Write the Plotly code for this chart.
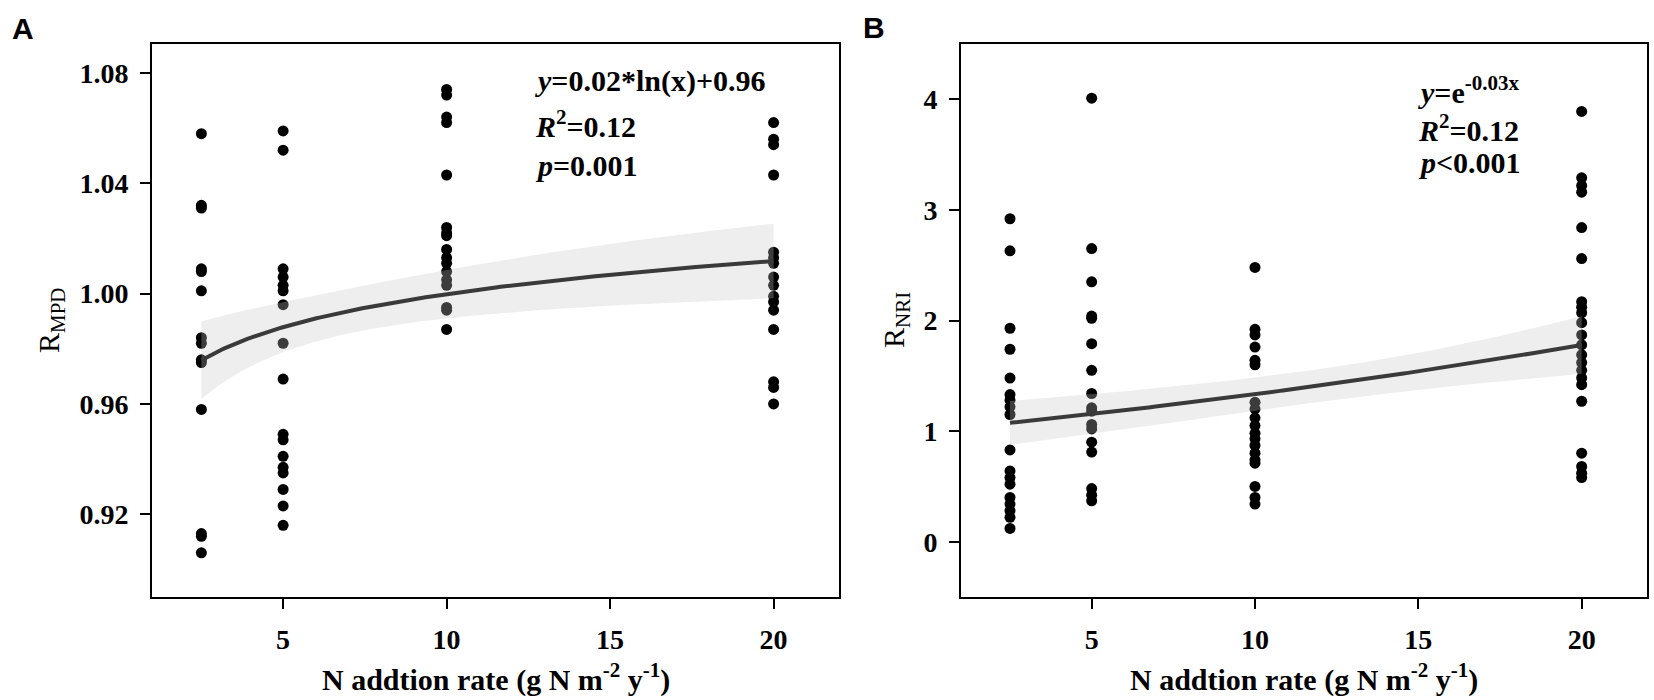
import numpy as np
import plotly.graph_objects as go

W, H = 1654, 700

# ---------------- data ----------------
N_RATES = [2.5, 5, 10, 20]

MPD_25 = [1.058, 1.032, 1.031, 1.009, 1.008, 1.001, 0.984, 0.982, 0.976, 0.975, 0.958, 0.913, 0.912, 0.906]
MPD_5 = [1.059, 1.052, 1.009, 1.006, 1.003, 1.001, 0.996, 0.982, 0.969, 0.949, 0.947, 0.941, 0.937,
         0.935, 0.929, 0.923, 0.916]
MPD_10 = [1.074, 1.072, 1.064, 1.062, 1.043, 1.024, 1.022, 1.021, 1.016, 1.013, 1.011, 1.008, 1.005,
          1.003, 0.995, 0.994, 0.987]
MPD_20 = [1.062, 1.056, 1.054, 1.043, 1.015, 1.013, 1.011, 1.006, 1.003, 0.999, 0.997, 0.994, 0.987,
          0.968, 0.966, 0.960]

NRI_25 = [2.92, 2.63, 1.93, 1.74, 1.48, 1.33, 1.28, 1.22, 1.15, 0.83, 0.64, 0.58, 0.52, 0.40, 0.34,
          0.28, 0.22, 0.12]
NRI_5 = [4.01, 2.65, 2.35, 2.04, 2.02, 1.79, 1.55, 1.34, 1.21, 1.18, 1.06, 1.02, 0.90, 0.81, 0.48,
         0.42, 0.37]
NRI_10 = [2.48, 1.92, 1.87, 1.76, 1.64, 1.60, 1.26, 1.20, 1.12, 1.05, 0.98, 0.93, 0.87, 0.80, 0.74,
          0.71, 0.50, 0.40, 0.34]
NRI_20 = [3.89, 3.29, 3.22, 3.16, 2.84, 2.56, 2.17, 2.12, 2.07, 1.98, 1.87, 1.78, 1.69, 1.62, 1.55,
          1.48, 1.42, 1.27, 0.80, 0.68, 0.62, 0.58]

# fitted curves as drawn
A_SLOPE, A_INTERCEPT = 0.0173, 0.960     # y = a*ln(x) + b
B_COEF, B_RATE = 1.0, 0.0288             # y = c*exp(r*x)
BAND_Z_A = 1.6
BAND_Z_B = 1.5

X_TICKS = [5, 10, 15, 20]
A_YTICKS = [0.92, 0.96, 1.00, 1.04, 1.08]
B_YTICKS = [0, 1, 2, 3, 4]

A_EQ = ["<i>y</i>=0.02*ln(x)+0.96", "<i>R</i><sup>2</sup>=0.12", "<i>p</i>=0.001"]
B_EQ = ["<i>y</i>=e<sup>-0.03x</sup>", "<i>R</i><sup>2</sup>=0.12", "<i>p</i>&lt;0.001"]
X_TITLE = "N addtion rate (g N m<sup>-2</sup> y<sup>-1</sup>)"
A_YTITLE = "R<sub>MPD</sub>"
B_YTITLE = "R<sub>NRI</sub>"


def stack(groups):
    xs, ys = [], []
    for r, g in zip(N_RATES, groups):
        xs += [r] * len(g)
        ys += list(g)
    return np.array(xs, float), np.array(ys, float)


xa, ya = stack([MPD_25, MPD_5, MPD_10, MPD_20])
xb, yb = stack([NRI_25, NRI_5, NRI_10, NRI_20])

xf = np.linspace(min(N_RATES), max(N_RATES), 200)

# panel A: log model and confidence band
lx = np.log(xa)
fit_a = A_SLOPE * np.log(xf) + A_INTERCEPT
res_a = ya - (A_SLOPE * lx + A_INTERCEPT)
s_a = np.sqrt(np.sum(res_a ** 2) / (len(ya) - 2))
se_a = s_a * np.sqrt(1 / len(ya) + (np.log(xf) - lx.mean()) ** 2 / np.sum((lx - lx.mean()) ** 2))
lo_a, hi_a = fit_a - BAND_Z_A * se_a, fit_a + BAND_Z_A * se_a

# panel B: exponential model and delta-method band
fit_b = B_COEF * np.exp(B_RATE * xf)
res_b = yb - B_COEF * np.exp(B_RATE * xb)
s_b2 = np.sum(res_b ** 2) / (len(yb) - 2)
J = np.column_stack([np.exp(B_RATE * xb), B_COEF * xb * np.exp(B_RATE * xb)])
cov = s_b2 * np.linalg.inv(J.T @ J)
G = np.column_stack([np.exp(B_RATE * xf), B_COEF * xf * np.exp(B_RATE * xf)])
se_b = np.sqrt(np.einsum("ij,jk,ik->i", G, cov, G))
lo_b, hi_b = fit_b - BAND_Z_B * se_b, fit_b + BAND_Z_B * se_b

# ---------------- figure ----------------
SERIF = "Liberation Serif"
SANS = "Liberation Sans"
fig = go.Figure()


def add_panel(xp, yp, fit, lo, hi, xa_name, ya_name):
    fig.add_trace(go.Scatter(x=xp, y=yp, mode="markers", xaxis=xa_name, yaxis=ya_name,
                             marker=dict(color="black", size=11), hoverinfo="skip"))
    fig.add_trace(go.Scatter(x=np.concatenate([xf, xf[::-1]]), y=np.concatenate([hi, lo[::-1]]),
                             mode="lines", fill="toself", fillcolor="rgba(200,200,200,0.30)",
                             line=dict(width=0), xaxis=xa_name, yaxis=ya_name, hoverinfo="skip"))
    fig.add_trace(go.Scatter(x=xf, y=fit, mode="lines", line=dict(color="#3a3a3a", width=4),
                             xaxis=xa_name, yaxis=ya_name, hoverinfo="skip"))


add_panel(xa, ya, fit_a, lo_a, hi_a, "x", "y")
add_panel(xb, yb, fit_b, lo_b, hi_b, "x2", "y2")

y_dom = [1 - 597 / H, 1 - 44 / H]
axis_common = dict(showgrid=False, zeroline=False, showline=True, linecolor="black", linewidth=2,
                   mirror=True, ticks="outside", ticklen=10, tickwidth=2, tickcolor="black",
                   tickfont=dict(family=SERIF, size=28, color="black", weight="bold"))

fig.update_layout(
    width=W, height=H, margin=dict(l=0, r=0, t=0, b=0),
    paper_bgcolor="white", plot_bgcolor="white", showlegend=False,
    xaxis=dict(domain=[152 / W, 839 / W], range=[0.99, 22.0], tickvals=X_TICKS,
               anchor="y", ticklabelstandoff=6, **axis_common),
    yaxis=dict(domain=y_dom, range=[0.890, 1.0905], tickvals=A_YTICKS,
               ticktext=[f"{v:.2f}" for v in A_YTICKS], anchor="x", ticklabelstandoff=6,
               **axis_common),
    xaxis2=dict(domain=[961 / W, 1647 / W], range=[1.0, 22.0], tickvals=X_TICKS,
                anchor="y2", ticklabelstandoff=6, **axis_common),
    yaxis2=dict(domain=y_dom, range=[-0.5, 4.5], tickvals=B_YTICKS,
                ticktext=[str(v) for v in B_YTICKS], anchor="x2", ticklabelstandoff=6,
                **axis_common),
)


def ann(text, px, py, size, family=SERIF, bold=True, xanchor="left", yanchor="middle", angle=0):
    fig.add_annotation(text=text, x=px / W, y=1 - py / H, xref="paper", yref="paper",
                       showarrow=False, xanchor=xanchor, yanchor=yanchor, textangle=angle,
                       font=dict(family=family, size=size, color="black",
                                 weight="bold" if bold else "normal"))


# equations
for txt, py in zip(A_EQ, [81, 124, 165]):
    ann(txt, 533, py, 30)
for txt, py in zip(B_EQ, [90, 128, 162]):
    ann(txt, 1416, py, 30)

# axis titles
ann(X_TITLE, (152 + 839) / 2, 699, 30, xanchor="center", yanchor="bottom")
ann(X_TITLE, (961 + 1647) / 2, 699, 30, xanchor="center", yanchor="bottom")
ann(A_YTITLE, 51, 320, 30, bold=False, xanchor="center", angle=-90)
ann(B_YTITLE, 896, 320, 30, bold=False, xanchor="center", angle=-90)

# panel letters
ann("A", 23, 29, 30, family=SANS, xanchor="center")
ann("B", 874, 27, 30, family=SANS, xanchor="center")

fig.write_html("out.html", config={"displayModeBar": False},
               post_script="document.body.style.margin='0';document.body.style.overflow='hidden';")
